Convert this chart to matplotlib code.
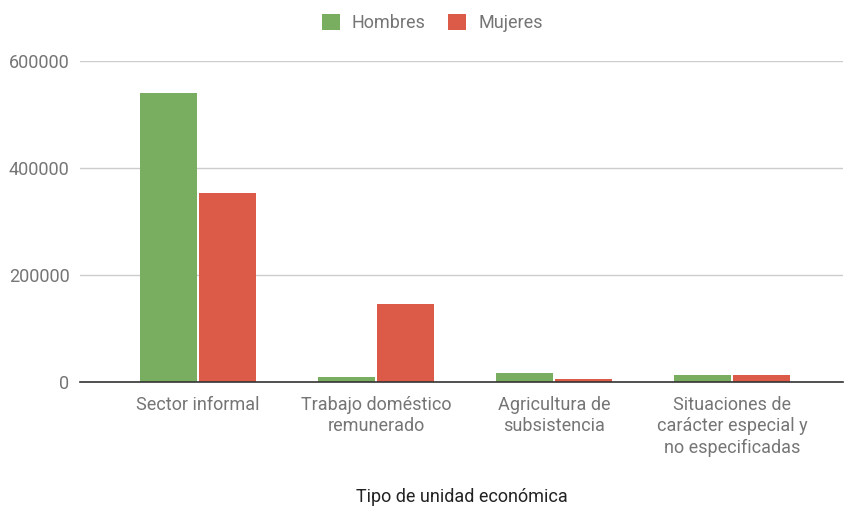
import matplotlib.pyplot as plt
import numpy as np

plt.rcParams['font.family'] = ['Roboto', 'DejaVu Sans']

# Data.
categories = ['Sector informal',
              'Trabajo doméstico\nremunerado',
              'Agricultura de\nsubsistencia',
              'Situaciones de\ncarácter especial y\nno especificadas']
hombres = [540000, 9300, 17400, 12400]
mujeres = [353000, 146000, 6200, 12400]
yTicks = [0, 200000, 400000, 600000]

green = '#79ae61'
red = '#dc5a48'
grey = '#757575'

fig = plt.figure(figsize=(8.44, 5.07), dpi=100)
ax = fig.add_axes([80 / 844, 1 - 382 / 507, 763 / 844, 321 / 507])

x = np.arange(len(categories))
w = 0.322
ax.bar(x - w / 2 - 0.006, hombres, w, color=green, label='Hombres', zorder=3)
ax.bar(x + w / 2 + 0.006, mujeres, w, color=red, label='Mujeres', zorder=3)

ax.set_xlim(-0.663, 3.624)
ax.set_ylim(0, 600000)
ax.set_yticks(yTicks)
ax.set_yticklabels([str(t) for t in yTicks])
ax.set_xticks(x)
ax.set_xticklabels(categories, linespacing=1.25, va='top')
ax.tick_params(axis='both', length=0, labelsize=13, colors=grey)
ax.tick_params(axis='x', pad=10)
ax.tick_params(axis='y', pad=7.5)

ax.grid(axis='y', color='#cccccc', linewidth=1, zorder=0)
for s in ['top', 'right', 'left']:
    ax.spines[s].set_visible(False)
ax.spines['bottom'].set_color('#333333')
ax.spines['bottom'].set_linewidth(1.2)
ax.spines['bottom'].set_zorder(4)

ax.set_xlabel('Tipo de unidad económica', fontsize=13, color='#222222', labelpad=22)

fig.legend(loc='upper center', bbox_to_anchor=(0.512, 1.005), ncol=2, frameon=False,
           fontsize=13, labelcolor=grey, handlelength=1.0, handleheight=1.0,
           columnspacing=1.25, handletextpad=0.67)

fig.savefig('out.png', dpi=100)
